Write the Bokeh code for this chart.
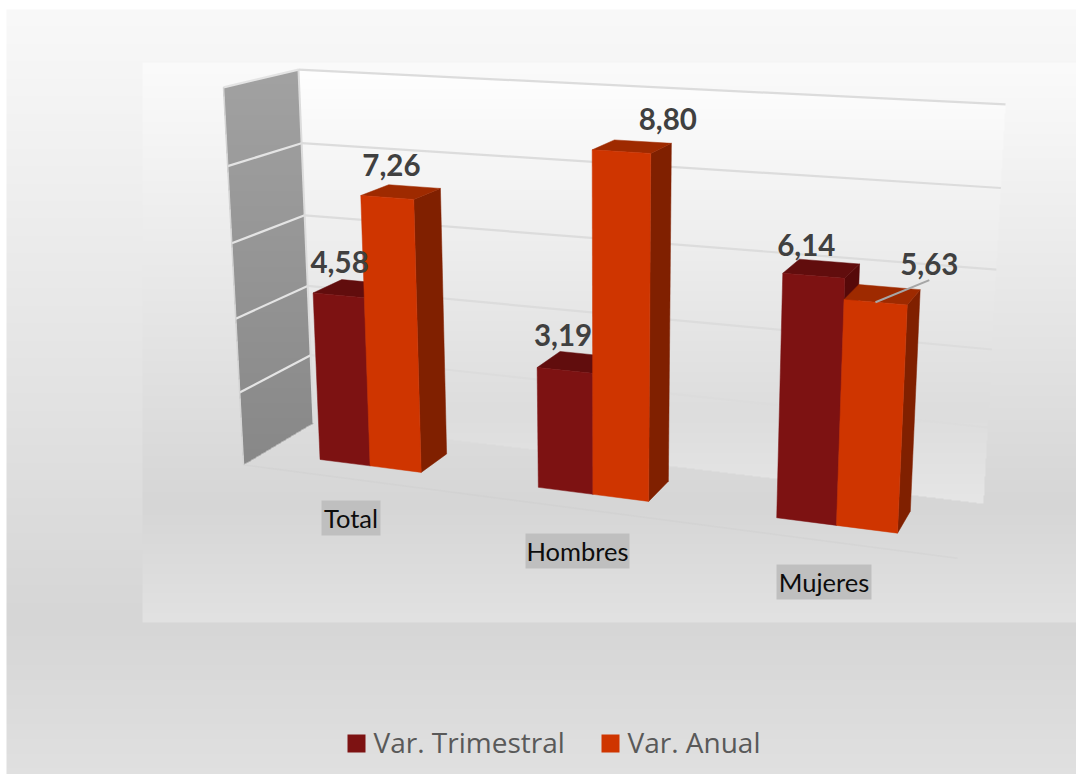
import numpy as np
from bokeh.embed import file_html
from bokeh.resources import INLINE
from bokeh.plotting import figure
from bokeh.core.properties import value as V

# ---- data ----
categories = ["Total", "Hombres", "Mujeres"]
var_trimestral = [4.58, 3.19, 6.14]
var_anual = [7.26, 8.80, 5.63]
series_names = ["Var. Trimestral", "Var. Anual"]
value_ticks = [0, 2, 4, 6, 8, 10]

# ---- camera: fitted to the box corners (X 0..1, value 0..10, Z 0 front..1 back) ----
corners = [((0, 0, 0), (243, 464)), ((0, 10, 0), (223, 87)), ((0, 0, 1), (313, 423)),
           ((0, 10, 1), (298, 69)), ((1, 0, 1), (983, 503)), ((1, 10, 1), (1005, 104)),
           ((1, 0, 0), (957, 558))]
A = []
for (X, Y, Z), (u, v) in corners:
    A.append([X, Y, Z, 1, 0, 0, 0, 0, -u*X, -u*Y, -u*Z, -u])
    A.append([0, 0, 0, 0, X, Y, Z, 1, -v*X, -v*Y, -v*Z, -v])
M = np.linalg.svd(np.array(A, float))[2][-1].reshape(3, 4)


def P(X, Y, Z):
    h = M @ np.array([X, Y, Z, 1.0])
    return h[0]/h[2], h[1]/h[2]


W, H = 1076, 774


def sy(py):
    return H - py


# ---- background painted as one picture of gradients ----
def grad(stops, y):
    ys, cs = zip(*stops)
    return np.interp(y, ys, cs)


rows = np.arange(H) + 0.5
cols = np.arange(W) + 0.5
xx, yy = np.meshgrid(cols, rows)
img = np.full((H, W), 255.0)
outer = (xx >= 6) & (yy >= 9)
img[outer] = grad([(9, 249), (620, 214), (782, 225)], yy)[outer]
inner = (xx >= 142) & (yy >= 62) & (yy <= 622)
inner_stops = [(62, 251), (504, 214), (622, 226)]
img[inner] = grad(inner_stops, yy)[inner]


def convex(poly):
    m = np.ones_like(xx, bool)
    poly = list(poly)
    n = len(poly)
    area = sum(poly[i][0]*poly[(i+1) % n][1] - poly[(i+1) % n][0]*poly[i][1] for i in range(n))
    s = 1 if area > 0 else -1
    for i in range(n):
        a, b = poly[i], poly[(i+1) % n]
        m &= s*((b[0]-a[0])*(yy-a[1]) - (b[1]-a[1])*(xx-a[0])) >= 0
    return m


wall = [P(0, 10, 1), P(1, 10, 1), P(1, 0, 1), P(0, 0, 1)]
floor_ = [P(0, 0, 1), P(1, 0, 1), P(1, 0, 0), P(0, 0, 0)]
side = [P(0, 10, 0), P(0, 10, 1), P(0, 0, 1), P(0, 0, 0)]
m = convex(wall)
img[m] = grad([(69, 255), (412, 221), (503, 230)], yy)[m]
m = convex(floor_)
img[m] = grad(inner_stops, yy)[m]
m = convex(side)
img[m] = grad([(69, 162), (464, 136)], yy)[m]

rgba = np.zeros((H, W, 4), dtype=np.uint8)
rgba[..., 0] = rgba[..., 1] = rgba[..., 2] = np.clip(img, 0, 255).astype(np.uint8)
rgba[..., 3] = 255
packed = np.frombuffer(rgba[::-1].tobytes(), dtype=np.uint32).reshape(H, W)

p = figure(width=W, height=H, x_range=(0, W), y_range=(0, H),
           output_backend="svg", toolbar_location=None, min_border=0)
p.axis.visible = False
p.grid.visible = False
p.outline_line_color = None
p.background_fill_color = None
p.border_fill_color = "white"
p.image_rgba(image=[packed], x=0, y=0, dw=W, dh=H)


def seg(a, b, color, width, alpha=1.0):
    p.line([a[0], b[0]], [sy(a[1]), sy(b[1])], line_color=color, line_width=width, line_alpha=alpha)


# gridlines
for t in value_ticks:
    if t > 0:
        seg(P(0, t, 1), P(1, t, 1), "#dcdcdc", 2.2)
        seg(P(0, t, 0), P(0, t, 1), "#e4e4e4", 2.2)
seg(P(0, 0, 0), P(0, 10, 0), "#d4d4d4", 1.5)
seg(P(0, 0, 1), P(0, 10, 1), "#dcdcdc", 2)
seg(P(0, 0, 0), P(1, 0, 0), "#c8c8c8", 1.5, 0.25)

# ---- bars ----
BAR_HALF = 0.079
CAT_SHIFT = 0.002
Z0, Z1 = 0.285, 0.70
FACES = [dict(front="#7d1212", top="#610d0d", side="#560909"),
         dict(front="#cf3500", top="#9e2a00", side="#802000")]


def bar(i, s, val):
    c = (i + 0.5)/3 + CAT_SHIFT
    x0 = c - BAR_HALF + s*BAR_HALF
    x1 = x0 + BAR_HALF
    f = FACES[s]
    polys = [([(x1, 0, Z0), (x1, 0, Z1), (x1, val, Z1), (x1, val, Z0)], f["side"]),
             ([(x0, val, Z0), (x1, val, Z0), (x1, val, Z1), (x0, val, Z1)], f["top"]),
             ([(x0, 0, Z0), (x1, 0, Z0), (x1, val, Z0), (x0, val, Z0)], f["front"])]
    for pts, col in polys:
        q = [P(*t) for t in pts]
        p.patch([a for a, _ in q], [sy(b) for _, b in q], fill_color=col, line_color=col, line_width=0.5)
    return P((x0 + x1)/2, val, Z1), P((x0 + x1)/2, val, Z0)


LABEL_OFFSET = [[(-27, -20), (-24, -19), (-23, -17)], [(-23, -22), (25, -23), (40, -23)]]
labels = []
for s, vals in enumerate([var_trimestral, var_anual]):
    for i, val in enumerate(vals):
        back, mid = bar(i, s, val)
        dx, dy = LABEL_OFFSET[s][i]
        labels.append((back[0] + dx, back[1] + dy, f"{val:.2f}".replace(".", ","), mid, i, s))

# leader line of the last label
for lx, ly, txt, mid, i, s in labels:
    if i == 2 and s == 1:
        seg(mid, (lx, ly + 16), "#a6a6a6", 2)
for lx, ly, txt, mid, i, s in labels:
    p.text([lx], [sy(ly)], text=[txt], text_font=V("Lato"), text_font_style="bold",
           text_font_size="29.5px", text_color="#404040", text_align="center", text_baseline="middle")

# ---- category labels ----
CAT_BOX = [(321, 380, 500, 535), (525, 629, 533, 568), (776, 871, 564, 599)]
for (l, r, t, b), cat in zip(CAT_BOX, categories):
    p.quad(left=l, right=r, top=sy(t), bottom=sy(b), fill_color="#bfbfbf", line_color=None)
    p.text([(l + r)/2], [sy((t + b)/2 - 0.5)], text=[cat], text_font=V("Lato"), text_font_size="25.5px",
           text_color="#0d0d0d", text_align="center", text_baseline="middle")

# ---- legend ----
LEG = [(347, 373, FACES[0]["front"]), (601, 627, FACES[1]["front"])]
for (bx, tx, col), name in zip(LEG, series_names):
    p.quad(left=bx, right=bx + 18, top=sy(734), bottom=sy(752), fill_color=col, line_color=None)
    p.text([tx], [sy(741)], text=[name], text_font=V("Open Sans"), text_font_size="28px",
           text_color="#595959", text_align="left", text_baseline="middle")

open("out.html", "w").write(file_html(p, INLINE))
